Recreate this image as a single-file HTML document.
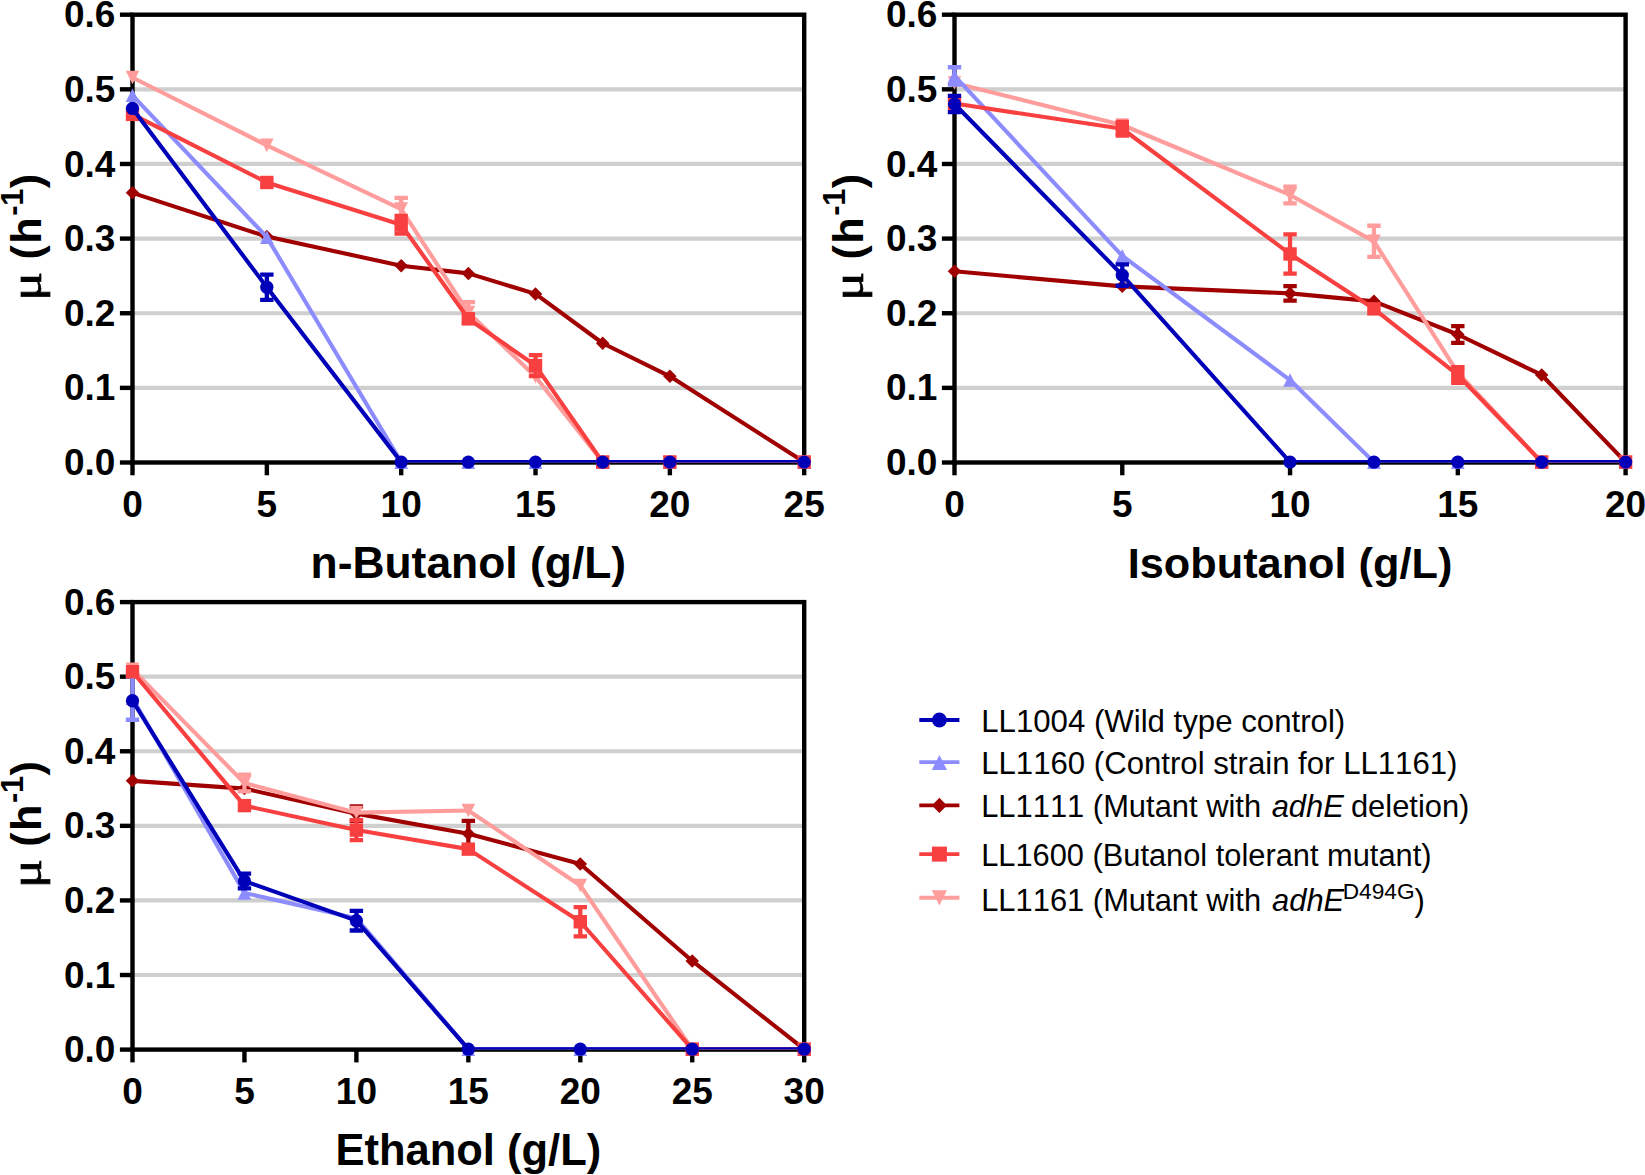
<!DOCTYPE html>
<html lang="en"><head><meta charset="utf-8"><title>Growth rate vs alcohol concentration</title>
<style>
html,body{margin:0;padding:0;background:#fff}
svg{display:block}
text{font-family:"Liberation Sans",sans-serif;fill:#000;font-kerning:none}
</style></head><body>
<svg width="1645" height="1175" viewBox="0 0 1645 1175">
<rect width="1645" height="1175" fill="#fff"/>
<clipPath id="c1"><rect x="112.5" y="-5.3" width="711.7" height="467.7"/></clipPath>
<line x1="132.5" y1="387.87" x2="804.2" y2="387.87" stroke="#cfcfcf" stroke-width="4.2"/>
<line x1="132.5" y1="313.23" x2="804.2" y2="313.23" stroke="#cfcfcf" stroke-width="4.2"/>
<line x1="132.5" y1="238.6" x2="804.2" y2="238.6" stroke="#cfcfcf" stroke-width="4.2"/>
<line x1="132.5" y1="163.97" x2="804.2" y2="163.97" stroke="#cfcfcf" stroke-width="4.2"/>
<line x1="132.5" y1="89.33" x2="804.2" y2="89.33" stroke="#cfcfcf" stroke-width="4.2"/>
<g stroke="#000" stroke-width="4.4" fill="none">
<rect x="132.5" y="14.7" width="671.7" height="447.8"/>
<line x1="119.9" y1="462.5" x2="132.5" y2="462.5"/>
<line x1="119.9" y1="387.87" x2="132.5" y2="387.87"/>
<line x1="119.9" y1="313.23" x2="132.5" y2="313.23"/>
<line x1="119.9" y1="238.6" x2="132.5" y2="238.6"/>
<line x1="119.9" y1="163.97" x2="132.5" y2="163.97"/>
<line x1="119.9" y1="89.33" x2="132.5" y2="89.33"/>
<line x1="119.9" y1="14.7" x2="132.5" y2="14.7"/>
<line x1="132.5" y1="462.5" x2="132.5" y2="475.3"/>
<line x1="266.84" y1="462.5" x2="266.84" y2="475.3"/>
<line x1="401.18" y1="462.5" x2="401.18" y2="475.3"/>
<line x1="535.52" y1="462.5" x2="535.52" y2="475.3"/>
<line x1="669.86" y1="462.5" x2="669.86" y2="475.3"/>
<line x1="804.2" y1="462.5" x2="804.2" y2="475.3"/>
</g>
<g font-size="37.0" font-weight="bold">
<text x="115.4" y="475.1" text-anchor="end">0.0</text>
<text x="115.4" y="400.47" text-anchor="end">0.1</text>
<text x="115.4" y="325.83" text-anchor="end">0.2</text>
<text x="115.4" y="251.2" text-anchor="end">0.3</text>
<text x="115.4" y="176.57" text-anchor="end">0.4</text>
<text x="115.4" y="101.93" text-anchor="end">0.5</text>
<text x="115.4" y="27.3" text-anchor="end">0.6</text>
<text x="132.5" y="516.5" text-anchor="middle">0</text>
<text x="266.84" y="516.5" text-anchor="middle">5</text>
<text x="401.18" y="516.5" text-anchor="middle">10</text>
<text x="535.52" y="516.5" text-anchor="middle">15</text>
<text x="669.86" y="516.5" text-anchor="middle">20</text>
<text x="804.2" y="516.5" text-anchor="middle">25</text>
</g>
<text x="468.35" y="577.8" text-anchor="middle" font-size="44.4" font-weight="bold">n-Butanol (g/L)</text>
<g transform="translate(41.3,297) rotate(-90)" font-weight="bold" font-size="43.2">
<text transform="translate(-3.9,0) scale(1.26,1)" style="font-family:'Liberation Serif','DejaVu Serif',serif" font-weight="normal" font-size="43.4" stroke="#000" stroke-width="0.7">μ</text>
<text><tspan x="37.5">(</tspan><tspan x="53.3">h</tspan><tspan x="81.2" dy="-18.3" font-size="31">-</tspan><tspan x="91.2" font-size="31">1</tspan><tspan x="108.7" dy="18.3">)</tspan></text>
</g>
<g stroke="#a00000" stroke-width="4.1" fill="none">
<polyline points="132.5,192.85 266.84,236.58 401.18,265.69 468.35,273.38 535.52,293.9 602.69,343.24 669.86,376.3 804.2,462.1" stroke-linejoin="round" clip-path="url(#c1)"/>
</g>
<polygon points="132.5,186.1 139.25,192.85 132.5,199.6 125.75,192.85" fill="#a00000"/>
<polygon points="266.84,229.83 273.59,236.58 266.84,243.33 260.09,236.58" fill="#a00000"/>
<polygon points="401.18,258.94 407.93,265.69 401.18,272.44 394.43,265.69" fill="#a00000"/>
<polygon points="468.35,266.63 475.1,273.38 468.35,280.13 461.6,273.38" fill="#a00000"/>
<polygon points="535.52,287.15 542.27,293.9 535.52,300.65 528.77,293.9" fill="#a00000"/>
<polygon points="602.69,336.49 609.44,343.24 602.69,349.99 595.94,343.24" fill="#a00000"/>
<polygon points="669.86,369.55 676.61,376.3 669.86,383.05 663.11,376.3" fill="#a00000"/>
<polygon points="804.2,455.35 810.95,462.1 804.2,468.85 797.45,462.1" fill="#a00000"/>
<g stroke="#ff9c9c" stroke-width="4.1" fill="none">
<path d="M401.18 197.78V220.31M394.48 197.78h13.4M394.48 220.31h13.4" stroke-width="4.3"/>
<path d="M468.35 302.04V323.08M461.65 302.04h13.4M461.65 323.08h13.4" stroke-width="4.3"/>
<polyline points="132.5,77.54 266.84,145.38 401.18,209.05 468.35,312.56 535.52,376.67 602.69,462.1 669.86,462.1 804.2,462.1" stroke-linejoin="round" clip-path="url(#c1)"/>
</g>
<polygon points="125.7,70.74 139.3,70.74 132.5,84.34" fill="#ff9c9c"/>
<polygon points="260.04,138.58 273.64,138.58 266.84,152.18" fill="#ff9c9c"/>
<polygon points="394.38,202.25 407.98,202.25 401.18,215.85" fill="#ff9c9c"/>
<polygon points="461.55,305.76 475.15,305.76 468.35,319.36" fill="#ff9c9c"/>
<polygon points="528.72,369.87 542.32,369.87 535.52,383.47" fill="#ff9c9c"/>
<polygon points="595.89,455.3 609.49,455.3 602.69,468.9" fill="#ff9c9c"/>
<polygon points="663.06,455.3 676.66,455.3 669.86,468.9" fill="#ff9c9c"/>
<polygon points="797.4,455.3 811,455.3 804.2,468.9" fill="#ff9c9c"/>
<g stroke="#8c8cff" stroke-width="4.1" fill="none">
<polyline points="132.5,95.3 266.84,237.11 401.18,462.1 468.35,462.1 535.52,462.1 602.69,462.1 669.86,462.1 804.2,462.1" stroke-linejoin="round" clip-path="url(#c1)"/>
</g>
<polygon points="132.5,88.5 139.3,102.1 125.7,102.1" fill="#8c8cff"/>
<polygon points="266.84,230.31 273.64,243.91 260.04,243.91" fill="#8c8cff"/>
<polygon points="401.18,455.3 407.98,468.9 394.38,468.9" fill="#8c8cff"/>
<polygon points="468.35,455.3 475.15,468.9 461.55,468.9" fill="#8c8cff"/>
<polygon points="535.52,455.3 542.32,468.9 528.72,468.9" fill="#8c8cff"/>
<polygon points="602.69,455.3 609.49,468.9 595.89,468.9" fill="#8c8cff"/>
<polygon points="669.86,455.3 676.66,468.9 663.06,468.9" fill="#8c8cff"/>
<polygon points="804.2,455.3 811,468.9 797.4,468.9" fill="#8c8cff"/>
<g stroke="#f84040" stroke-width="4.1" fill="none">
<path d="M401.18 215.91V233.52M394.48 215.91h13.4M394.48 233.52h13.4" stroke-width="4.3"/>
<path d="M535.52 355.1V376M528.82 355.1h13.4M528.82 376h13.4" stroke-width="4.3"/>
<polyline points="132.5,114.41 266.84,182.48 401.18,224.72 468.35,318.76 535.52,365.55 602.69,462.1 669.86,462.1 804.2,462.1" stroke-linejoin="round" clip-path="url(#c1)"/>
</g>
<rect x="125.8" y="107.71" width="13.4" height="13.4" fill="#f84040"/>
<rect x="260.14" y="175.78" width="13.4" height="13.4" fill="#f84040"/>
<rect x="394.48" y="218.02" width="13.4" height="13.4" fill="#f84040"/>
<rect x="461.65" y="312.06" width="13.4" height="13.4" fill="#f84040"/>
<rect x="528.82" y="358.85" width="13.4" height="13.4" fill="#f84040"/>
<rect x="595.99" y="455.4" width="13.4" height="13.4" fill="#f84040"/>
<rect x="663.16" y="455.4" width="13.4" height="13.4" fill="#f84040"/>
<rect x="797.5" y="455.4" width="13.4" height="13.4" fill="#f84040"/>
<g stroke="#0000b8" stroke-width="4.1" fill="none">
<path d="M266.84 274.57V299.95M260.14 274.57h13.4M260.14 299.95h13.4" stroke-width="4.3"/>
<polyline points="132.5,108.44 266.84,287.26 401.18,462.1 468.35,462.1 535.52,462.1 602.69,462.1 669.86,462.1 804.2,462.1" stroke-linejoin="round" clip-path="url(#c1)"/>
</g>
<circle cx="132.5" cy="108.44" r="6.65" fill="#0000b8"/>
<circle cx="266.84" cy="287.26" r="6.65" fill="#0000b8"/>
<circle cx="401.18" cy="462.1" r="6.65" fill="#0000b8"/>
<circle cx="468.35" cy="462.1" r="6.65" fill="#0000b8"/>
<circle cx="535.52" cy="462.1" r="6.65" fill="#0000b8"/>
<circle cx="602.69" cy="462.1" r="6.65" fill="#0000b8"/>
<circle cx="669.86" cy="462.1" r="6.65" fill="#0000b8"/>
<circle cx="804.2" cy="462.1" r="6.65" fill="#0000b8"/>
<clipPath id="c2"><rect x="934.5" y="-5.3" width="711.1" height="467.7"/></clipPath>
<line x1="954.5" y1="387.87" x2="1625.6" y2="387.87" stroke="#cfcfcf" stroke-width="4.2"/>
<line x1="954.5" y1="313.23" x2="1625.6" y2="313.23" stroke="#cfcfcf" stroke-width="4.2"/>
<line x1="954.5" y1="238.6" x2="1625.6" y2="238.6" stroke="#cfcfcf" stroke-width="4.2"/>
<line x1="954.5" y1="163.97" x2="1625.6" y2="163.97" stroke="#cfcfcf" stroke-width="4.2"/>
<line x1="954.5" y1="89.33" x2="1625.6" y2="89.33" stroke="#cfcfcf" stroke-width="4.2"/>
<g stroke="#000" stroke-width="4.4" fill="none">
<rect x="954.5" y="14.7" width="671.1" height="447.8"/>
<line x1="941.9" y1="462.5" x2="954.5" y2="462.5"/>
<line x1="941.9" y1="387.87" x2="954.5" y2="387.87"/>
<line x1="941.9" y1="313.23" x2="954.5" y2="313.23"/>
<line x1="941.9" y1="238.6" x2="954.5" y2="238.6"/>
<line x1="941.9" y1="163.97" x2="954.5" y2="163.97"/>
<line x1="941.9" y1="89.33" x2="954.5" y2="89.33"/>
<line x1="941.9" y1="14.7" x2="954.5" y2="14.7"/>
<line x1="954.5" y1="462.5" x2="954.5" y2="475.3"/>
<line x1="1122.28" y1="462.5" x2="1122.28" y2="475.3"/>
<line x1="1290.05" y1="462.5" x2="1290.05" y2="475.3"/>
<line x1="1457.82" y1="462.5" x2="1457.82" y2="475.3"/>
<line x1="1625.6" y1="462.5" x2="1625.6" y2="475.3"/>
</g>
<g font-size="37.0" font-weight="bold">
<text x="937.4" y="475.1" text-anchor="end">0.0</text>
<text x="937.4" y="400.47" text-anchor="end">0.1</text>
<text x="937.4" y="325.83" text-anchor="end">0.2</text>
<text x="937.4" y="251.2" text-anchor="end">0.3</text>
<text x="937.4" y="176.57" text-anchor="end">0.4</text>
<text x="937.4" y="101.93" text-anchor="end">0.5</text>
<text x="937.4" y="27.3" text-anchor="end">0.6</text>
<text x="954.5" y="516.5" text-anchor="middle">0</text>
<text x="1122.28" y="516.5" text-anchor="middle">5</text>
<text x="1290.05" y="516.5" text-anchor="middle">10</text>
<text x="1457.82" y="516.5" text-anchor="middle">15</text>
<text x="1625.6" y="516.5" text-anchor="middle">20</text>
</g>
<text x="1290.05" y="577.8" text-anchor="middle" font-size="43.3" font-weight="bold">Isobutanol (g/L)</text>
<g transform="translate(863.3,297) rotate(-90)" font-weight="bold" font-size="43.2">
<text transform="translate(-3.9,0) scale(1.26,1)" style="font-family:'Liberation Serif','DejaVu Serif',serif" font-weight="normal" font-size="43.4" stroke="#000" stroke-width="0.7">μ</text>
<text><tspan x="37.5">(</tspan><tspan x="53.3">h</tspan><tspan x="81.2" dy="-18.3" font-size="31">-</tspan><tspan x="91.2" font-size="31">1</tspan><tspan x="108.7" dy="18.3">)</tspan></text>
</g>
<g stroke="#a00000" stroke-width="4.1" fill="none">
<path d="M1290.05 286.22V300.55M1283.35 286.22h13.4M1283.35 300.55h13.4" stroke-width="4.3"/>
<path d="M1457.82 326.22V342.79M1451.12 326.22h13.4M1451.12 342.79h13.4" stroke-width="4.3"/>
<polyline points="954.5,271.29 1122.28,286.37 1290.05,293.38 1373.94,301.37 1457.82,334.5 1541.71,374.96 1625.6,462.1" stroke-linejoin="round" clip-path="url(#c2)"/>
</g>
<polygon points="954.5,264.54 961.25,271.29 954.5,278.04 947.75,271.29" fill="#a00000"/>
<polygon points="1122.28,279.62 1129.03,286.37 1122.28,293.12 1115.53,286.37" fill="#a00000"/>
<polygon points="1290.05,286.63 1296.8,293.38 1290.05,300.13 1283.3,293.38" fill="#a00000"/>
<polygon points="1373.94,294.62 1380.69,301.37 1373.94,308.12 1367.19,301.37" fill="#a00000"/>
<polygon points="1457.82,327.75 1464.57,334.5 1457.82,341.25 1451.07,334.5" fill="#a00000"/>
<polygon points="1541.71,368.21 1548.46,374.96 1541.71,381.71 1534.96,374.96" fill="#a00000"/>
<polygon points="1625.6,455.35 1632.35,462.1 1625.6,468.85 1618.85,462.1" fill="#a00000"/>
<g stroke="#ff9c9c" stroke-width="4.1" fill="none">
<path d="M1290.05 186.58V203.3M1283.35 186.58h13.4M1283.35 203.3h13.4" stroke-width="4.3"/>
<path d="M1373.94 225.76V256.96M1367.24 225.76h13.4M1367.24 256.96h13.4" stroke-width="4.3"/>
<polyline points="954.5,82.99 1122.28,125.01 1290.05,194.94 1373.94,241.36 1457.82,372.57 1541.71,462.1 1625.6,462.1" stroke-linejoin="round" clip-path="url(#c2)"/>
</g>
<polygon points="947.7,76.19 961.3,76.19 954.5,89.79" fill="#ff9c9c"/>
<polygon points="1115.48,118.21 1129.08,118.21 1122.28,131.81" fill="#ff9c9c"/>
<polygon points="1283.25,188.14 1296.85,188.14 1290.05,201.74" fill="#ff9c9c"/>
<polygon points="1367.14,234.56 1380.74,234.56 1373.94,248.16" fill="#ff9c9c"/>
<polygon points="1451.02,365.77 1464.62,365.77 1457.82,379.37" fill="#ff9c9c"/>
<polygon points="1534.91,455.3 1548.51,455.3 1541.71,468.9" fill="#ff9c9c"/>
<polygon points="1618.8,455.3 1632.4,455.3 1625.6,468.9" fill="#ff9c9c"/>
<g stroke="#8c8cff" stroke-width="4.1" fill="none">
<path d="M954.5 67.24V84.71M947.8 67.24h13.4M947.8 84.71h13.4" stroke-width="4.3"/>
<polyline points="954.5,75.97 1122.28,255.84 1290.05,380.03 1373.94,462.1 1457.82,462.1 1541.71,462.1 1625.6,462.1" stroke-linejoin="round" clip-path="url(#c2)"/>
</g>
<polygon points="954.5,69.17 961.3,82.77 947.7,82.77" fill="#8c8cff"/>
<polygon points="1122.28,249.04 1129.08,262.64 1115.48,262.64" fill="#8c8cff"/>
<polygon points="1290.05,373.23 1296.85,386.83 1283.25,386.83" fill="#8c8cff"/>
<polygon points="1373.94,455.3 1380.74,468.9 1367.14,468.9" fill="#8c8cff"/>
<polygon points="1457.82,455.3 1464.62,468.9 1451.02,468.9" fill="#8c8cff"/>
<polygon points="1541.71,455.3 1548.51,468.9 1534.91,468.9" fill="#8c8cff"/>
<polygon points="1625.6,455.3 1632.4,468.9 1618.8,468.9" fill="#8c8cff"/>
<g stroke="#f84040" stroke-width="4.1" fill="none">
<path d="M1122.28 121.8V135.68M1115.58 121.8h13.4M1115.58 135.68h13.4" stroke-width="4.3"/>
<path d="M1290.05 234.42V273.53M1283.35 234.42h13.4M1283.35 273.53h13.4" stroke-width="4.3"/>
<path d="M1457.82 367.12V382.79M1451.12 367.12h13.4M1451.12 382.79h13.4" stroke-width="4.3"/>
<polyline points="954.5,103.51 1122.28,128.74 1290.05,253.97 1373.94,308.83 1457.82,374.96 1541.71,462.1 1625.6,462.1" stroke-linejoin="round" clip-path="url(#c2)"/>
</g>
<rect x="947.8" y="96.81" width="13.4" height="13.4" fill="#f84040"/>
<rect x="1115.58" y="122.04" width="13.4" height="13.4" fill="#f84040"/>
<rect x="1283.35" y="247.27" width="13.4" height="13.4" fill="#f84040"/>
<rect x="1367.24" y="302.13" width="13.4" height="13.4" fill="#f84040"/>
<rect x="1451.12" y="368.26" width="13.4" height="13.4" fill="#f84040"/>
<rect x="1535.01" y="455.4" width="13.4" height="13.4" fill="#f84040"/>
<rect x="1618.9" y="455.4" width="13.4" height="13.4" fill="#f84040"/>
<g stroke="#0000b8" stroke-width="4.1" fill="none">
<path d="M954.5 95.9V112.17M947.8 95.9h13.4M947.8 112.17h13.4" stroke-width="4.3"/>
<path d="M1122.28 264.42V285.77M1115.58 264.42h13.4M1115.58 285.77h13.4" stroke-width="4.3"/>
<polyline points="954.5,104.04 1122.28,275.1 1290.05,462.1 1373.94,462.1 1457.82,462.1 1541.71,462.1 1625.6,462.1" stroke-linejoin="round" clip-path="url(#c2)"/>
</g>
<circle cx="954.5" cy="104.04" r="6.65" fill="#0000b8"/>
<circle cx="1122.28" cy="275.1" r="6.65" fill="#0000b8"/>
<circle cx="1290.05" cy="462.1" r="6.65" fill="#0000b8"/>
<circle cx="1373.94" cy="462.1" r="6.65" fill="#0000b8"/>
<circle cx="1457.82" cy="462.1" r="6.65" fill="#0000b8"/>
<circle cx="1541.71" cy="462.1" r="6.65" fill="#0000b8"/>
<circle cx="1625.6" cy="462.1" r="6.65" fill="#0000b8"/>
<clipPath id="c3"><rect x="112.5" y="582.1" width="711.7" height="467.4"/></clipPath>
<line x1="132.5" y1="975.02" x2="804.2" y2="975.02" stroke="#cfcfcf" stroke-width="4.2"/>
<line x1="132.5" y1="900.43" x2="804.2" y2="900.43" stroke="#cfcfcf" stroke-width="4.2"/>
<line x1="132.5" y1="825.85" x2="804.2" y2="825.85" stroke="#cfcfcf" stroke-width="4.2"/>
<line x1="132.5" y1="751.27" x2="804.2" y2="751.27" stroke="#cfcfcf" stroke-width="4.2"/>
<line x1="132.5" y1="676.68" x2="804.2" y2="676.68" stroke="#cfcfcf" stroke-width="4.2"/>
<g stroke="#000" stroke-width="4.4" fill="none">
<rect x="132.5" y="602.1" width="671.7" height="447.5"/>
<line x1="119.9" y1="1049.6" x2="132.5" y2="1049.6"/>
<line x1="119.9" y1="975.02" x2="132.5" y2="975.02"/>
<line x1="119.9" y1="900.43" x2="132.5" y2="900.43"/>
<line x1="119.9" y1="825.85" x2="132.5" y2="825.85"/>
<line x1="119.9" y1="751.27" x2="132.5" y2="751.27"/>
<line x1="119.9" y1="676.68" x2="132.5" y2="676.68"/>
<line x1="119.9" y1="602.1" x2="132.5" y2="602.1"/>
<line x1="132.5" y1="1049.6" x2="132.5" y2="1062.4"/>
<line x1="244.45" y1="1049.6" x2="244.45" y2="1062.4"/>
<line x1="356.4" y1="1049.6" x2="356.4" y2="1062.4"/>
<line x1="468.35" y1="1049.6" x2="468.35" y2="1062.4"/>
<line x1="580.3" y1="1049.6" x2="580.3" y2="1062.4"/>
<line x1="692.25" y1="1049.6" x2="692.25" y2="1062.4"/>
<line x1="804.2" y1="1049.6" x2="804.2" y2="1062.4"/>
</g>
<g font-size="37.0" font-weight="bold">
<text x="115.4" y="1062.2" text-anchor="end">0.0</text>
<text x="115.4" y="987.62" text-anchor="end">0.1</text>
<text x="115.4" y="913.03" text-anchor="end">0.2</text>
<text x="115.4" y="838.45" text-anchor="end">0.3</text>
<text x="115.4" y="763.87" text-anchor="end">0.4</text>
<text x="115.4" y="689.28" text-anchor="end">0.5</text>
<text x="115.4" y="614.7" text-anchor="end">0.6</text>
<text x="132.5" y="1103.6" text-anchor="middle">0</text>
<text x="244.45" y="1103.6" text-anchor="middle">5</text>
<text x="356.4" y="1103.6" text-anchor="middle">10</text>
<text x="468.35" y="1103.6" text-anchor="middle">15</text>
<text x="580.3" y="1103.6" text-anchor="middle">20</text>
<text x="692.25" y="1103.6" text-anchor="middle">25</text>
<text x="804.2" y="1103.6" text-anchor="middle">30</text>
</g>
<text x="468.35" y="1164.9" text-anchor="middle" font-size="43.5" font-weight="bold">Ethanol (g/L)</text>
<g transform="translate(41.3,884.25) rotate(-90)" font-weight="bold" font-size="43.2">
<text transform="translate(-3.9,0) scale(1.26,1)" style="font-family:'Liberation Serif','DejaVu Serif',serif" font-weight="normal" font-size="43.4" stroke="#000" stroke-width="0.7">μ</text>
<text><tspan x="37.5">(</tspan><tspan x="53.3">h</tspan><tspan x="81.2" dy="-18.3" font-size="31">-</tspan><tspan x="91.2" font-size="31">1</tspan><tspan x="108.7" dy="18.3">)</tspan></text>
</g>
<g stroke="#a00000" stroke-width="4.1" fill="none">
<path d="M356.4 806.32V820.97M349.7 806.32h13.4M349.7 820.97h13.4" stroke-width="4.3"/>
<path d="M468.35 820.85V846.51M461.65 820.85h13.4M461.65 846.51h13.4" stroke-width="4.3"/>
<polyline points="132.5,780.83 244.45,788.6 356.4,813.64 468.35,833.68 580.3,864.04 692.25,960.97 804.2,1049.2" stroke-linejoin="round" clip-path="url(#c3)"/>
</g>
<polygon points="132.5,774.08 139.25,780.83 132.5,787.58 125.75,780.83" fill="#a00000"/>
<polygon points="244.45,781.85 251.2,788.6 244.45,795.35 237.7,788.6" fill="#a00000"/>
<polygon points="356.4,806.89 363.15,813.64 356.4,820.39 349.65,813.64" fill="#a00000"/>
<polygon points="468.35,826.93 475.1,833.68 468.35,840.43 461.6,833.68" fill="#a00000"/>
<polygon points="580.3,857.29 587.05,864.04 580.3,870.79 573.55,864.04" fill="#a00000"/>
<polygon points="692.25,954.22 699,960.97 692.25,967.72 685.5,960.97" fill="#a00000"/>
<polygon points="804.2,1042.45 810.95,1049.2 804.2,1055.95 797.45,1049.2" fill="#a00000"/>
<g stroke="#ff9c9c" stroke-width="4.1" fill="none">
<path d="M244.45 774.7V791.44M237.75 774.7h13.4M237.75 791.44h13.4" stroke-width="4.3"/>
<polyline points="132.5,669.37 244.45,783.07 356.4,812.67 468.35,810.49 580.3,885.52 692.25,1049.2 804.2,1049.2" stroke-linejoin="round" clip-path="url(#c3)"/>
</g>
<polygon points="125.7,662.57 139.3,662.57 132.5,676.17" fill="#ff9c9c"/>
<polygon points="237.65,776.27 251.25,776.27 244.45,789.87" fill="#ff9c9c"/>
<polygon points="349.6,805.87 363.2,805.87 356.4,819.47" fill="#ff9c9c"/>
<polygon points="461.55,803.69 475.15,803.69 468.35,817.29" fill="#ff9c9c"/>
<polygon points="573.5,878.72 587.1,878.72 580.3,892.32" fill="#ff9c9c"/>
<polygon points="685.45,1042.4 699.05,1042.4 692.25,1056" fill="#ff9c9c"/>
<polygon points="797.4,1042.4 811,1042.4 804.2,1056" fill="#ff9c9c"/>
<g stroke="#8c8cff" stroke-width="4.1" fill="none">
<path d="M132.5 676.7V719.76M125.8 676.7h13.4M125.8 719.76h13.4" stroke-width="4.3"/>
<polyline points="132.5,698.23 244.45,892.88 356.4,918.29 468.35,1049.2 580.3,1049.2 692.25,1049.2 804.2,1049.2" stroke-linejoin="round" clip-path="url(#c3)"/>
</g>
<polygon points="132.5,691.43 139.3,705.03 125.7,705.03" fill="#8c8cff"/>
<polygon points="244.45,886.08 251.25,899.68 237.65,899.68" fill="#8c8cff"/>
<polygon points="356.4,911.49 363.2,925.09 349.6,925.09" fill="#8c8cff"/>
<polygon points="468.35,1042.4 475.15,1056 461.55,1056" fill="#8c8cff"/>
<polygon points="580.3,1042.4 587.1,1056 573.5,1056" fill="#8c8cff"/>
<polygon points="692.25,1042.4 699.05,1056 685.45,1056" fill="#8c8cff"/>
<polygon points="804.2,1042.4 811,1056 797.4,1056" fill="#8c8cff"/>
<g stroke="#f84040" stroke-width="4.1" fill="none">
<path d="M356.4 820.07V840.1M349.7 820.07h13.4M349.7 840.1h13.4" stroke-width="4.3"/>
<path d="M580.3 907.15V936.38M573.6 907.15h13.4M573.6 936.38h13.4" stroke-width="4.3"/>
<polyline points="132.5,671.69 244.45,805.64 356.4,830.09 468.35,849.12 580.3,921.76 692.25,1049.2 804.2,1049.2" stroke-linejoin="round" clip-path="url(#c3)"/>
</g>
<rect x="125.8" y="664.99" width="13.4" height="13.4" fill="#f84040"/>
<rect x="237.75" y="798.94" width="13.4" height="13.4" fill="#f84040"/>
<rect x="349.7" y="823.39" width="13.4" height="13.4" fill="#f84040"/>
<rect x="461.65" y="842.42" width="13.4" height="13.4" fill="#f84040"/>
<rect x="573.6" y="915.06" width="13.4" height="13.4" fill="#f84040"/>
<rect x="685.55" y="1042.5" width="13.4" height="13.4" fill="#f84040"/>
<rect x="797.5" y="1042.5" width="13.4" height="13.4" fill="#f84040"/>
<g stroke="#0000b8" stroke-width="4.1" fill="none">
<path d="M244.45 873.67V888.47M237.75 873.67h13.4M237.75 888.47h13.4" stroke-width="4.3"/>
<path d="M356.4 910.89V930.48M349.7 910.89h13.4M349.7 930.48h13.4" stroke-width="4.3"/>
<polyline points="132.5,700.77 244.45,881.07 356.4,920.68 468.35,1049.2 580.3,1049.2 692.25,1049.2 804.2,1049.2" stroke-linejoin="round" clip-path="url(#c3)"/>
</g>
<circle cx="132.5" cy="700.77" r="6.65" fill="#0000b8"/>
<circle cx="244.45" cy="881.07" r="6.65" fill="#0000b8"/>
<circle cx="356.4" cy="920.68" r="6.65" fill="#0000b8"/>
<circle cx="468.35" cy="1049.2" r="6.65" fill="#0000b8"/>
<circle cx="580.3" cy="1049.2" r="6.65" fill="#0000b8"/>
<circle cx="692.25" cy="1049.2" r="6.65" fill="#0000b8"/>
<circle cx="804.2" cy="1049.2" r="6.65" fill="#0000b8"/>
<g>
<line x1="919.3" y1="720" x2="959.4" y2="720" stroke="#0000b8" stroke-width="3.9"/>
<circle cx="939.4" cy="720" r="7.45" fill="#0000b8"/>
<text x="981.2" y="731.5" font-size="31.2">LL1004 (Wild type control)</text>
<line x1="919.3" y1="762.1" x2="959.4" y2="762.1" stroke="#8c8cff" stroke-width="3.9"/>
<polygon points="939.4,754.88 947.02,770.12 931.78,770.12" fill="#8c8cff"/>
<text x="981.2" y="773.7" font-size="31.17">LL1160 (Control strain for LL1161)</text>
<line x1="919.3" y1="805.4" x2="959.4" y2="805.4" stroke="#a00000" stroke-width="3.9"/>
<polygon points="939.4,797.84 946.96,805.4 939.4,812.96 931.84,805.4" fill="#a00000"/>
<text x="981.2" y="816.6" font-size="30.9">LL1111 (Mutant with <tspan font-style="italic" dx="2">adhE</tspan><tspan dx="-1.5"> deletion)</tspan></text>
<line x1="919.3" y1="854.1" x2="959.4" y2="854.1" stroke="#f84040" stroke-width="3.9"/>
<rect x="931.9" y="846.6" width="15.01" height="15.01" fill="#f84040"/>
<text x="981.2" y="865.6" font-size="30.8">LL1600 (Butanol tolerant mutant)</text>
<line x1="919.3" y1="897.8" x2="959.4" y2="897.8" stroke="#ff9c9c" stroke-width="3.9"/>
<polygon points="931.78,890.18 947.02,890.18 939.4,905.42" fill="#ff9c9c"/>
<text x="981.2" y="911.2" font-size="30.9">LL1161 (Mutant with <tspan font-style="italic" dx="2.4">adhE</tspan><tspan font-size="22.7" dy="-12.6" dx="-1.6">D494G</tspan><tspan dy="12.6">)</tspan></text>
</g>
</svg>
</body></html>
